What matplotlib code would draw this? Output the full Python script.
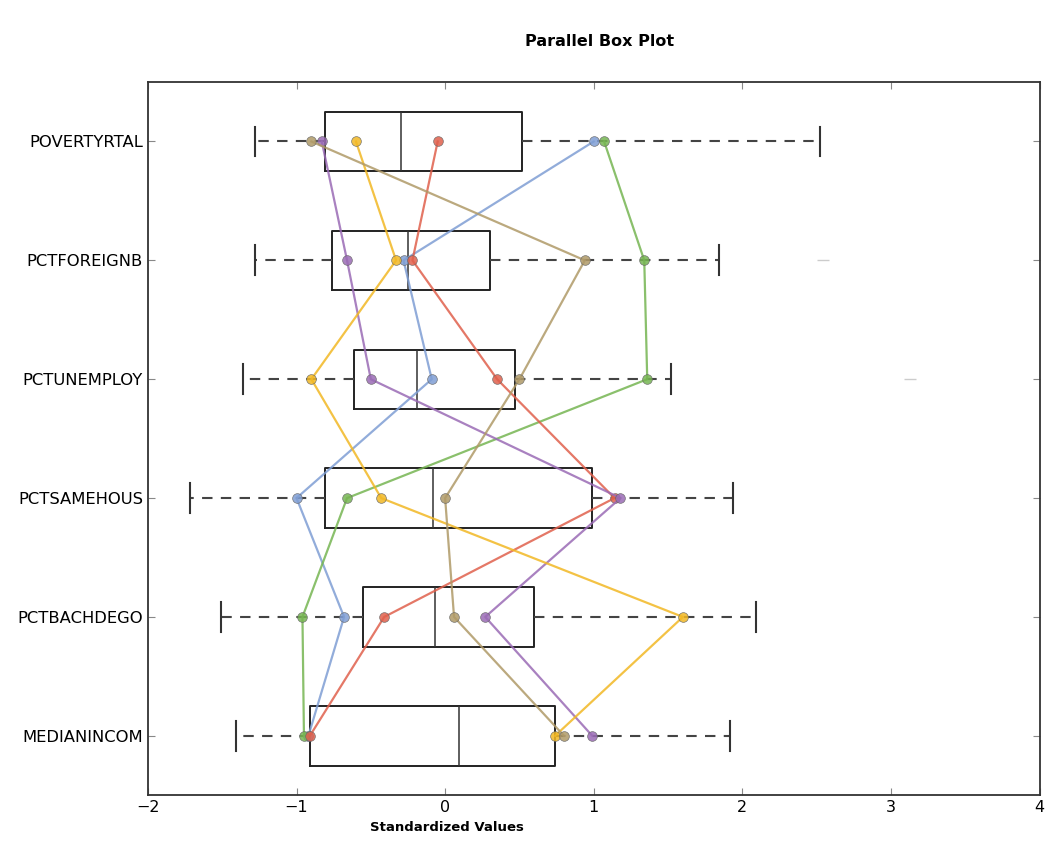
import numpy as np
import matplotlib
matplotlib.use("Agg")
import matplotlib.pyplot as plt

# variables, bottom to top (boxplot position 1 = bottom)
labels = ["MEDIANINCOM", "PCTBACHDEGO", "PCTSAMEHOUS", "PCTUNEMPLOY", "PCTFOREIGNB", "POVERTYRTAL"]
whislo = [-1.41, -1.51, -1.72, -1.36, -1.28, -1.28]
q1     = [-0.91, -0.55, -0.81, -0.61, -0.76, -0.81]
med    = [0.09, -0.07, -0.08, -0.19, -0.25, -0.30]
q3     = [0.74, 0.60, 0.99, 0.47, 0.30, 0.52]
whishi = [1.92, 2.09, 1.94, 1.52, 1.84, 2.52]
fliers = [[], [], [], [3.13], [2.54], []]

# individual observations, same variable order (bottom to top)
obs_blue   = [-0.92, -0.68, -1.00, -0.09, -0.28, 1.00]
obs_green  = [-0.95, -0.96, -0.66, 1.36, 1.34, 1.07]
obs_red    = [-0.91, -0.41, 1.14, 0.35, -0.22, -0.05]
obs_purple = [0.99, 0.27, 1.18, -0.50, -0.66, -0.83]
obs_yellow = [0.74, 1.60, -0.43, -0.90, -0.33, -0.60]
obs_tan    = [0.80, 0.06, 0.00, 0.50, 0.94, -0.90]

series = [(obs_blue, "#7f9ed4"), (obs_green, "#76b552"), (obs_red, "#e0604c"),
          (obs_purple, "#9a6bb5"), (obs_yellow, "#f2b824"), (obs_tan, "#b09a68")]

fig = plt.figure(figsize=(10.49, 8.46), dpi=100)
ax = fig.add_axes([0.141, 0.060, 0.850, 0.843])

stats = [dict(label=l, whislo=a, q1=b, med=c, q3=d, whishi=e, fliers=f)
         for l, a, b, c, d, e, f in zip(labels, whislo, q1, med, q3, whishi, fliers)]
pos = np.arange(1, len(labels) + 1)
ax.bxp(stats, positions=pos, vert=False, widths=0.5,
       boxprops=dict(color="#222222", lw=1.4),
       medianprops=dict(color="#333333", lw=1.1),
       whiskerprops=dict(color="#444444", lw=1.5, ls=(0, (5, 4))),
       capprops=dict(color="#333333", lw=1.5),
       flierprops=dict(marker="_", markeredgecolor="#cccccc", markersize=8, lw=0))

for vals, col in series:
    ax.plot(vals, pos, color=col, lw=1.6, alpha=0.85, marker="o", markersize=7,
            markerfacecolor=col, markeredgecolor="#666666", markeredgewidth=0.5, zorder=3)

ax.set_xlim(-2, 4)
ax.set_ylim(0.5, 6.5)
ax.set_yticks(pos)
ax.set_yticklabels(labels, fontsize=11.8)
ax.set_xticks(np.arange(-2, 5, 1))
ax.tick_params(axis="x", labelsize=11.5)
ax.tick_params(direction="in", top=True, right=True, length=5, color="#888888")
for sp in ax.spines.values():
    sp.set_color("#333333"); sp.set_linewidth(1.3)
ax.set_xlabel("Standardized Values", fontsize=9.5, fontweight="bold")
ax.xaxis.set_label_coords(0.335, -0.036)
fig.suptitle("Parallel Box Plot", fontsize=11.5, fontweight="bold", x=0.572, y=0.960)
fig.savefig("out.png", dpi=100, facecolor="white")
